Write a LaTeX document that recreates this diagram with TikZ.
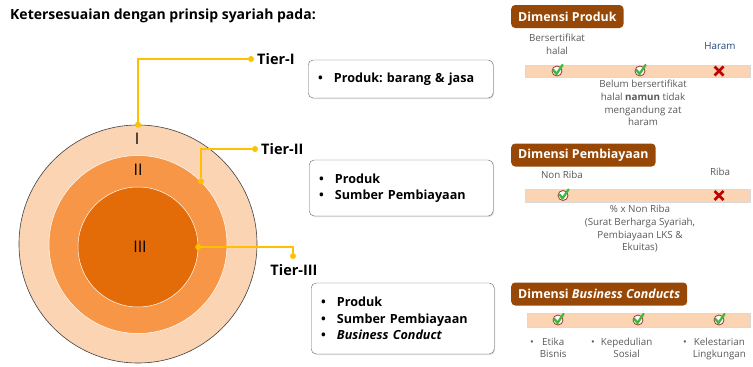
\documentclass[tikz,border=0pt]{standalone}
\usepackage{fontspec}
\setmainfont{Open Sans}
\usetikzlibrary{shadows}
\frenchspacing
\definecolor{peach}{HTML}{FBD4B4}
\definecolor{midorange}{HTML}{F79646}
\definecolor{darkorange}{HTML}{E36C09}
\definecolor{tieryellow}{HTML}{FFC000}
\definecolor{dimbrown}{HTML}{974806}
\definecolor{notegray}{HTML}{595959}
\definecolor{haramblue}{HTML}{1F497D}
\definecolor{chkgreen}{HTML}{3DB83D}
\definecolor{chkred}{HTML}{953735}
\definecolor{crsred}{HTML}{C00000}

\begin{document}
\begin{tikzpicture}[x=1pt, y=-1pt,
   ydot/.style={fill=tieryellow, circle, inner sep=0pt, minimum size=6pt},
   yline/.style={draw=tieryellow, line width=1.8pt},
   tier/.style={anchor=west, inner sep=0pt, font=\bfseries\fontsize{14.5}{16}\selectfont},
   ring/.style={circle, inner sep=0pt, font=\fontsize{16}{18}\selectfont},
   listbox/.style={draw=black!60, rounded corners=5pt, fill=white, anchor=west,
     drop shadow={opacity=0.25, shadow xshift=1pt, shadow yshift=-1pt},
     inner xsep=10pt, inner ysep=0pt, align=left, font=\bfseries\fontsize{12.6}{16.5}\selectfont},
   dimhead/.style={fill=dimbrown, text=white, rounded corners=4pt, anchor=west,
     minimum height=23pt, inner xsep=7pt, font=\bfseries\fontsize{12.4}{14}\selectfont},
   bar/.style={fill=peach, draw=black!15},
   note/.style={text=notegray, align=center, inner sep=0pt, font=\fontsize{9.8}{12.7}\selectfont},
   chk/.pic={
     \draw[draw=chkred, fill=white, line width=0.8pt] (0,0) circle[radius=5];
     \draw[chkgreen, line width=2.3pt, line cap=round, line join=round] (-3.5,-1) -- (-0.5,3) -- (5.5,-6);},
   crs/.pic={
     \draw[crsred, line width=2.6pt] (-4.5,-4.5) -- (4.5,4.5) (-4.5,4.5) -- (4.5,-4.5);}]
   \useasboundingbox (0,0) rectangle (753,367);
   \node[anchor=west, inner sep=0pt, font=\bfseries\fontsize{14}{16}\selectfont] (title) at (10,16) {Ketersesuaian dengan prinsip syariah pada:};
   % tiers
   \node[ring, fill=peach, draw=black!75, line width=0.6pt, minimum size=238pt] (t1) at (138,244) {};
   \node[ring, fill=midorange, draw=white, line width=0.5pt, minimum size=178pt] (t2) at (138,244.5) {};
   \node[ring, fill=darkorange, draw=white, line width=0.5pt, minimum size=120pt] (t3) at (138,247) {};
   \node[ring] (r1) at (137,139) {I};
   \node[ring] (r2) at (138,170) {II};
   \node[ring] (r3) at (140,247) {III};
   % connectors
   \node[ydot] (d1a) at (t1.north) {};
   \node[ydot] (d1b) at (251,59) {};
   \draw[yline] (d1a) |- (d1b);
   \node[tier] (tier1) at (257,59) {Tier-I};
   \node[ydot] (d2a) at (t2.45) {};
   \node[ydot] (d2b) at (255,149) {};
   \draw[yline] (d2a) |- (d2b);
   \node[tier] (tier2) at (261,149) {Tier-II};
   \node[ydot] (d3a) at (t3.east) {};
   \node[ydot] (d3b) at (293,256) {};
   \draw[yline] (d3a) -| (d3b);
   \node[tier, anchor=center] (tier3) at (294,270) {Tier-III};
   % lists
   \node[listbox, text width=165pt, minimum height=38pt] (box1) at (308,79)
     {\textbullet\hspace{11pt}Produk: barang \& jasa};
   \node[listbox, text width=164pt, minimum height=56pt] (box2) at (309,188)
     {\textbullet\hspace{11pt}Produk\\ \textbullet\hspace{11pt}Sumber Pembiayaan};
   \node[listbox, text width=163pt, minimum height=71pt] (box3) at (311,318.5)
     {\textbullet\hspace{11pt}Produk\\ \textbullet\hspace{11pt}Sumber Pembiayaan\\ \textbullet\hspace{11pt}\textit{Business Conduct}};
   % Dimensi Produk
   \node[dimhead] (dprod) at (511,16.5) {Dimensi Produk};
   \draw[bar] (525,65) rectangle (750,77);
   \node[note] (halal) at (557,44) {Bersertifikat\\halal};
   \node[note, text=haramblue] (haram) at (720,46) {Haram};
   \pic at (557,71) {chk};
   \pic at (640,71) {chk};
   \pic at (719,71) {crs};
   \node[note, anchor=north] (belum) at (643,80) {Belum bersertifikat\\halal \textbf{namun} tidak\\mengandung zat\\haram};
   % Dimensi Pembiayaan
   \node[dimhead] (dbiaya) at (511,155) {Dimensi Pembiayaan};
   \draw[bar] (525,189) rectangle (750,202);
   \node[note] (nonriba) at (562,175) {Non Riba};
   \node[note] (riba) at (720,172) {Riba};
   \pic at (563,195.5) {chk};
   \pic at (719,195.5) {crs};
   \node[note, anchor=north] (persen) at (640,205) {\% x Non Riba\\(Surat Berharga Syariah,\\Pembiayaan LKS \&\\Ekuitas)};
   % Dimensi Business Conducts
   \node[dimhead] (dbisnis) at (511,294) {Dimensi \textit{Business Conducts}};
   \draw[bar] (527,313.5) rectangle (750,327);
   \pic at (558,320) {chk};
   \pic at (638,320) {chk};
   \pic at (719,320) {chk};
   \node[note, anchor=north west] (etika) at (530,336)
     {\textbullet\hspace{6pt}\begin{tabular}[t]{@{}c@{}}Etika\\Bisnis\end{tabular}};
   \node[note, anchor=north west] (peduli) at (591,336)
     {\textbullet\hspace{6pt}\begin{tabular}[t]{@{}c@{}}Kepedulian\\Sosial\end{tabular}};
   \node[note, anchor=north west] (lestari) at (683,336)
     {\textbullet\hspace{6pt}\begin{tabular}[t]{@{}c@{}}Kelestarian\\Lingkungan\end{tabular}};
\end{tikzpicture}
\end{document}
